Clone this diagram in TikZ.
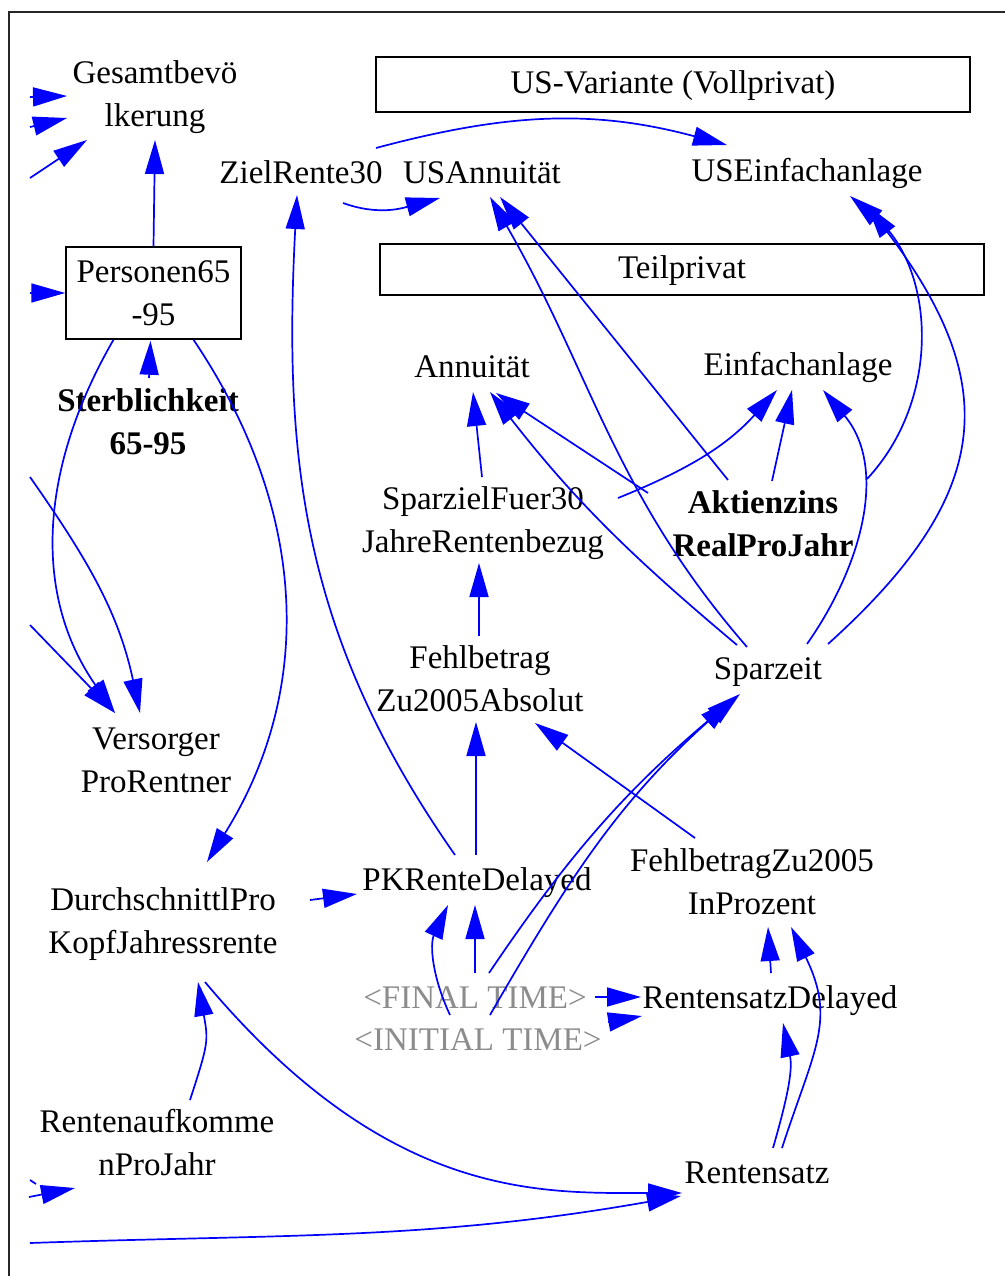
\documentclass[tikz,border=0pt]{standalone}
\usepackage{fontspec}
\setmainfont{Liberation Serif}
\usetikzlibrary{
  arrows.meta,
  calc
}
\definecolor{linkblue}{HTML}{0000FF}
\definecolor{shadowgrey}{HTML}{8C8C8C}
\definecolor{frameink}{HTML}{262626}
\newcommand{\varfont}{\fontsize{33}{43}\selectfont}
\tikzset{
  link/.style={
    -{Triangle[length=34pt,width=19pt]},
    line width=1.7pt,
    draw=linkblue
  },
  var/.style={
    font=\varfont,
    align=center,
    inner sep=2pt,
    execute at begin node=\strut,
    execute at end node=\strut
  },
  twovar/.style={
    var,
    execute at begin node=\rule{0pt}{72pt}
  },
  keyvar/.style={
    twovar,
    font=\varfont\bfseries
  },
  shadowvar/.style={
    var,
    text=shadowgrey
  },
  stock/.style={
    var,
    execute at begin node=\rule{0pt}{78pt},
    inner ysep=0.5pt,
    draw=black,
    line width=1.5pt,
    minimum width=175pt,
    minimum height=92pt
  },
  viewbox/.style={
    var,
    draw=black,
    line width=1.5pt,
    minimum height=55pt
  }
}

\begin{document}
\begin{tikzpicture}[x=1pt, y=-1pt]
  \useasboundingbox[fill=white] (0,0) rectangle (1005,1276);
  \draw[frameink, line width=2pt] (9,1276) -- (9,12) -- (1005,12);

  % views
  \node[viewbox, minimum width=594pt] (usvariante) at (673,84.5) {US-Variante (Vollprivat)};
  \node[viewbox, minimum width=604pt, minimum height=51pt] (teilprivat) at (682,269.5) {Teilprivat};

  % variables
  \node[twovar] (gesamt) at (155,97) {Gesamtbevö\\lkerung};
  \node[var] (zielrente) at (301,175) {ZielRente30};
  \node[var] (usannuitaet) at (482,175) {USAnnuität};
  \node[var] (useinfach) at (807,173) {USEinfachanlage};
  \node[stock] (personen) at (153.5,293) {Personen65\\-95};
  \node[keyvar] (sterblichkeit) at (148,425) {Sterblichkeit\\65-95};
  \node[var] (annuitaet) at (472,369) {Annuität};
  \node[var] (einfach) at (798,367) {Einfachanlage};
  \node[twovar] (sparziel) at (483,523) {SparzielFuer30\\JahreRentenbezug};
  \node[keyvar] (aktienzins) at (763,527) {Aktienzins\\RealProJahr};
  \node[twovar] (fehlabs) at (480,682) {Fehlbetrag\\Zu2005Absolut};
  \node[var] (sparzeit) at (768,671) {Sparzeit};
  \node[twovar] (versorger) at (156,763) {Versorger\\ProRentner};
  \node[twovar] (fehlproz) at (752,885) {FehlbetragZu2005\\InProzent};
  \node[var] (pkrente) at (477,882) {PKRenteDelayed};
  \node[twovar] (durchschnitt) at (163,924) {DurchschnittlPro\\KopfJahressrente};
  \node[shadowvar] (finaltime) at (475,1000) {\textless FINAL TIME\textgreater};
  \node[shadowvar] (initialtime) at (478,1042) {\textless INITIAL TIME\textgreater};
  \node[var] (rentdelayed) at (770,1000) {RentensatzDelayed};
  \node[twovar] (rentenauf) at (157,1146) {Rentenaufkomme\\nProJahr};
  \node[var] (rentensatz) at (757,1175) {Rentensatz};

  % links coming in from outside the view
  \coordinate (inA) at (30,97);
  \coordinate (inB) at (30,127);
  \coordinate (inC) at (30,178);
  \coordinate (inD) at (30,293);
  \coordinate (inE) at (30,477);
  \coordinate (inF) at (30,625);
  \coordinate (inG) at (29,1197);
  \coordinate (inH) at (30,1243);
  \draw[link] (inA) -- ($(gesamt)+(-88,-1)$);
  \draw[link] (inB) -- ($(gesamt)+(-88,21)$);
  \draw[link] (inC) -- ($(gesamt)+(-68,43)$);
  \draw[link] (inD) -- (personen.west);
  \draw[link] (inE) to[out=-55,in=102] ($(versorger)+(-16,-50)$);
  \draw[link] (inF) -- ($(versorger)+(-41,-50)$);
  \draw[link] (inG) -- ($(rentenauf)+(-82,42)$);
  \draw[linkblue, line width=1.7pt] ($(inG)+(1,-17)$) -- ++(6,4);
  \draw[link] (inH) to[out=2,in=190] ($(rentensatz)+(-76,21)$);

  % population
  \draw[link] (personen.north) -- ($(gesamt)+(0,43)$);
  \draw[link] ($(sterblichkeit)+(1,-47)$) -- ($(personen.south)+(-3,1)$);
  \draw[link] ($(personen.south)+(-40,0)$) to[out=240,in=125] ($(versorger)+(-41,-50)$);
  \draw[link] ($(personen.south)+(40,0)$) to[out=-56,in=58] ($(durchschnitt)+(44,-62)$);

  % US-Variante
  \draw[link] ($(pkrente)+(-22,-27)$) to[out=125,in=-93] ($(zielrente)+(-4,20)$);
  \draw[link] ($(zielrente)+(42,28)$) to[out=-20,in=195] ($(usannuitaet)+(-42,23)$);
  \draw[link] ($(zielrente)+(75,-27)$) to[out=15,in=165] ($(useinfach)+(-80,-28)$);
  \draw[link] ($(sparzeit)+(-21,-24)$) to[out=131,in=-60] ($(usannuitaet)+(8,22)$);
  \draw[link] ($(aktienzins)+(-35,-47)$) -- ($(usannuitaet)+(18,22)$);
  \draw[link] ($(aktienzins)+(104,-48)$) to[out=47,in=-40] ($(useinfach)+(43,23)$);
  \draw[link] ($(sparzeit)+(60,-27)$) to[out=42,in=-53,looseness=1.3] ($(useinfach)+(60,32)$);

  % Teilprivat
  \draw[link] ($(sparziel)+(-1,-46)$) -- ($(annuitaet)+(1,23)$);
  \draw[link] ($(aktienzins)+(-115,-34)$) -- ($(annuitaet)+(24,24)$);
  \draw[link] ($(sparzeit)+(-31,-26)$) to[out=140,in=-52] ($(annuitaet)+(18,23)$);
  \draw[link] ($(sparziel)+(135,-25)$) to[out=22,in=228] ($(einfach)+(-21,23)$);
  \draw[link] ($(aktienzins)+(9,-46)$) -- ($(einfach)+(-6,23)$);
  \draw[link] ($(sparzeit)+(39,-27)$) to[out=55,in=-50] ($(einfach)+(25,23)$);

  % gap chain
  \draw[link] ($(fehlabs)+(-1,-46)$) -- ($(sparziel)+(-4,40)$);
  \draw[link] ($(pkrente)+(-1,-27)$) -- ($(fehlabs)+(-4,40)$);
  \draw[link] ($(fehlproz)+(-57,-47)$) -- ($(fehlabs)+(55,41)$);
  \draw[link] ($(durchschnitt)+(147,-24)$) -- ($(pkrente)+(-120,12)$);

  % time
  \draw[link] ($(initialtime)+(-28,-27)$) to[out=115,in=-115] ($(pkrente)+(-29,23)$);
  \draw[link] ($(finaltime)+(0,-27)$) -- ($(pkrente)+(-2,23)$);
  \draw[link] ($(finaltime)+(14,-27)$) to[out=56,in=220] ($(sparzeit)+(-28,23)$);
  \draw[link] ($(initialtime)+(12,-27)$) to[out=60,in=222] ($(sparzeit)+(-35,28)$);
  \draw[link] ($(finaltime)+(120,-3)$) -- ($(rentdelayed)+(-129,-3)$);
  \draw[link] ($(initialtime)+(130,-20)$) -- ($(rentdelayed)+(-128,16)$);

  % Rentensatz
  \draw[link] ($(rentdelayed)+(1,-27)$) -- ($(fehlproz)+(16,42)$);
  \draw[link] ($(rentensatz)+(25,-27)$) to[out=72,in=-64,looseness=1.2] ($(fehlproz)+(39,42)$);
  \draw[link] ($(rentensatz)+(16,-27)$) to[out=74,in=-78] ($(rentdelayed)+(13,23)$);
  \draw[link] ($(rentenauf)+(33,-46)$) to[out=72,in=-80,looseness=1.3] ($(durchschnitt)+(35,58)$);
  \draw[link] ($(durchschnitt)+(42,58)$) to[out=-50,in=180,out looseness=1.4,in looseness=0.7] ($(rentensatz)+(-75,18)$);
\end{tikzpicture}
\end{document}
